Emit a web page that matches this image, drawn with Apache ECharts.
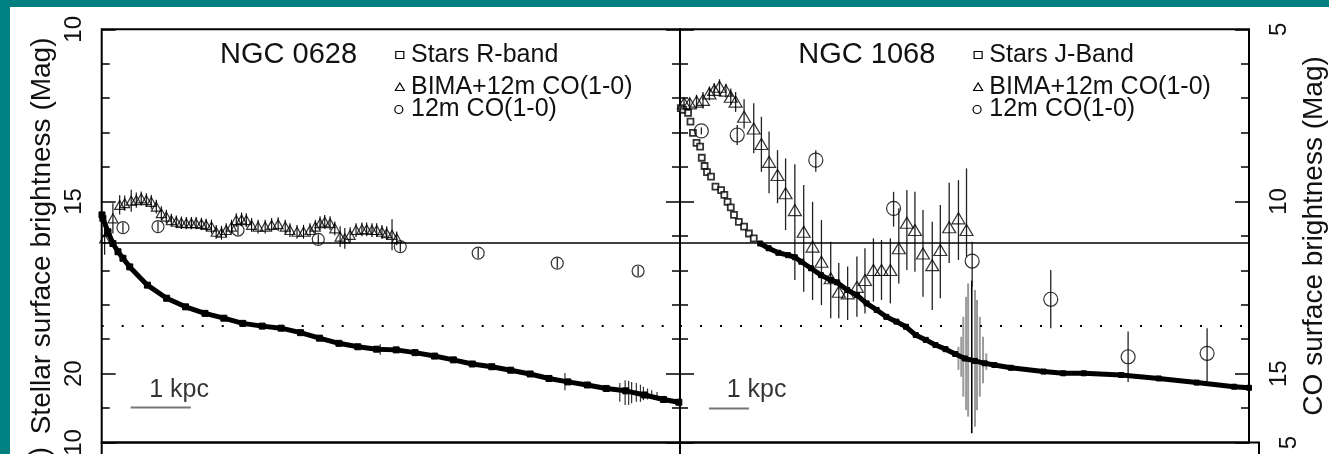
<!DOCTYPE html>
<html><head><meta charset="utf-8">
<script src="https://cdn.jsdelivr.net/npm/echarts@6/dist/echarts.min.js"></script>
<style>
html,body{margin:0;padding:0;background:#008080;width:1329px;height:454px;overflow:hidden;}
#c{position:absolute;left:10px;top:7px;width:1319px;height:447px;background:#ffffff;}
</style>
</head><body><div id="c"></div>
<script>
// ---------------- DATA (radius in kpc, magnitudes) ----------------
const panelTitles = ['NGC 0628', 'NGC 1068'];
const legendLeft = ['Stars R-band', 'BIMA+12m CO(1-0)', '12m CO(1-0)'];
const legendRight = ['Stars J-Band', 'BIMA+12m CO(1-0)', '12m CO(1-0)'];
const stellarTicks = [10, 15, 20];
const coTicks = [5, 10, 15];
const scaleBarText = '1 kpc';

// NGC 0628 stars R-band (stellar mag)
const n0628Stars = [[0.005,15.39],[0.02,15.49],[0.107,15.88],[0.19,16.22],[0.276,16.46],[0.36,16.65],[0.475,16.90],[0.775,17.43],[1.10,17.81],[1.42,18.06],[1.75,18.25],[2.07,18.39],[2.39,18.54],[2.72,18.62],[3.04,18.68],[3.37,18.81],[3.69,18.97],[4.02,19.12],[4.34,19.22],[4.66,19.29],[4.99,19.31],[5.31,19.39],[5.64,19.49],[5.96,19.60],[6.28,19.72],[6.61,19.80],[6.93,19.90],[7.26,20.01],[7.58,20.14],[7.90,20.24],[8.23,20.33],[8.55,20.43],[8.88,20.50],[9.20,20.62],[9.52,20.75],[9.78,20.83]];
// [r, low, high]
const n0628StarErr = [[4.72,19.15,19.45],[7.85,19.98,20.48],[8.78,20.27,20.82],[8.87,20.19,20.91],[8.93,20.21,20.91],[8.98,20.24,20.86],[9.06,20.27,20.82],[9.13,20.32,20.82],[9.18,20.38,20.77],[9.25,20.43,20.75],[9.32,20.48,20.72],[9.41,20.53,20.69]];
// NGC 0628 BIMA+12m CO (CO mag)
const n0628Bima = [[0.05,11.07],[0.19,10.49],[0.305,10.10],[0.39,10.05],[0.50,9.98],[0.586,9.96],[0.67,9.91],[0.756,9.96],[0.84,10.01],[0.925,10.15],[1.01,10.34],[1.095,10.44],[1.18,10.54],[1.264,10.59],[1.35,10.62],[1.434,10.63],[1.52,10.63],[1.60,10.63],[1.69,10.65],[1.77,10.68],[1.86,10.73],[1.94,10.88],[2.03,10.91],[2.11,10.83],[2.20,10.73],[2.28,10.54],[2.37,10.52],[2.45,10.54],[2.54,10.68],[2.65,10.73],[2.77,10.73],[2.88,10.68],[2.99,10.66],[3.11,10.73],[3.19,10.83],[3.31,10.88],[3.42,10.88],[3.53,10.83],[3.62,10.73],[3.70,10.63],[3.78,10.59],[3.87,10.63],[3.95,10.78],[4.04,11.02],[4.12,11.07],[4.21,10.97],[4.31,10.83],[4.41,10.81],[4.49,10.81],[4.58,10.83],[4.66,10.83],[4.75,10.88],[4.83,10.92],[4.92,10.97],[5.00,11.07]];
const n0628BimaErr = [0.48,0.44,0.28,0.22,0.32,0.22,0.2,0.2,0.2,0.2,0.2,0.2,0.18,0.18,0.18,0.18,0.18,0.18,0.18,0.18,0.2,0.2,0.2,0.2,0.2,0.2,0.2,0.2,0.2,0.2,0.2,0.2,0.2,0.2,0.2,0.2,0.2,0.2,0.2,0.2,0.2,0.2,0.2,0.3,0.3,0.22,0.2,0.2,0.2,0.2,0.2,0.2,0.2,0.45,0.2];
// NGC 0628 12m CO (CO mag)
const n0628Co12 = [[0.36,10.76],[0.954,10.73],[2.31,10.83],[3.67,11.10],[5.06,11.31],[6.38,11.50],[7.72,11.79],[9.09,12.02]];
const n0628Co12Err = [0.15,0.15,0.15,0.15,0.15,0.15,0.15,0.15];

// NGC 1068 stars J-band: inner sparse points and outer dense profile (stellar mag)
const n1068StarsInner = [[0.02,12.29],[0.08,12.34],[0.20,12.43],[0.26,12.68],[0.32,13.01],[0.41,13.30],[0.50,13.41],[0.54,13.73],[0.61,13.97],[0.67,14.15],[0.77,14.28],[0.88,14.57],[1.02,14.67],[1.10,14.81],[1.18,15.01],[1.26,15.17],[1.34,15.39],[1.46,15.59],[1.59,15.73],[1.71,15.93],[1.83,16.07]];
const n1068StarsOuter = [[1.99,16.22],[2.20,16.36],[2.44,16.49],[2.68,16.56],[2.85,16.62],[3.01,16.75],[3.25,16.94],[3.50,17.14],[3.74,17.28],[3.90,17.35],[4.15,17.57],[4.39,17.72],[4.63,17.96],[4.88,18.15],[5.12,18.35],[5.37,18.49],[5.61,18.64],[5.85,18.88],[6.10,19.02],[6.34,19.17],[6.59,19.29],[6.83,19.43],[7.07,19.56],[7.32,19.63],[7.56,19.70],[7.80,19.75],[8.21,19.83],[9.02,19.94],[9.51,19.99],[10.02,19.99],[10.95,20.04],[11.88,20.14],[12.82,20.26],[13.75,20.38],[14.12,20.41]];
const n1068StarErrGrey = [[6.91,19.22,19.89],[6.98,18.93,20.09],[7.03,18.35,20.67],[7.10,17.77,21.06],[7.15,17.38,21.25],[7.32,17.57,21.54],[7.37,17.86,21.06],[7.44,18.35,20.67],[7.52,18.93,20.28],[7.60,19.41,19.89]];
const n1068StarErrBlack = [[7.24,17.30,21.73]];
// NGC 1068 BIMA+12m CO (CO mag) with [low, high]
const n1068Bima = [[0.10,7.15],[0.24,7.15],[0.41,7.10],[0.57,7.05],[0.73,6.86],[0.85,6.76],[0.98,6.67],[1.14,6.78],[1.26,6.96],[1.38,7.10],[1.59,7.54],[1.83,7.88],[2.02,8.33],[2.21,8.85],[2.42,9.23],[2.62,9.76],[2.85,10.25],[3.07,10.88],[3.29,11.31],[3.51,11.75],[3.74,12.23],[3.94,12.62],[4.16,12.67],[4.39,12.48],[4.59,12.28],[4.80,11.99],[5.00,11.99],[5.22,11.99],[5.43,11.36],[5.63,10.62],[5.83,10.83],[6.03,11.51],[6.26,11.85],[6.46,11.41],[6.68,10.75],[6.91,10.49],[7.11,10.83]];
const n1068BimaErr = [[6.99,7.31],[6.99,7.31],[6.90,7.30],[6.82,7.30],[6.66,7.06],[6.56,6.96],[6.45,6.90],[6.58,6.98],[6.72,7.20],[6.82,7.40],[7.03,7.88],[7.15,8.60],[7.54,9.14],[7.97,9.76],[8.51,10.05],[8.75,10.83],[8.92,12.28],[9.52,12.62],[10.01,12.86],[10.54,13.01],[11.17,13.39],[11.79,13.39],[11.89,13.44],[11.60,13.35],[11.36,13.25],[11.07,12.91],[11.12,12.86],[11.07,12.96],[10.20,12.38],[9.67,11.99],[9.72,12.04],[10.25,12.77],[10.59,13.15],[10.10,12.81],[9.46,11.79],[9.38,11.70],[9.04,11.60]];
// NGC 1068 12m CO (CO mag) with [low, high]
const n1068Co12 = [[0.53,7.95],[1.42,8.07],[3.37,8.80],[5.30,10.20],[7.25,11.73],[9.20,12.84],[11.12,14.51],[13.08,14.41]];
const n1068Co12Err = [[7.85,8.05],[7.78,8.36],[8.51,9.14],[9.72,10.73],[11.17,12.48],[11.99,13.68],[13.78,15.24],[13.68,15.33]];

// horizontal reference levels (stellar mag)
const solidLevel = 16.21;
const dottedLevel = 18.6;
// scale bars: [r0, r1, mag] and label position [r, mag]
const scaleBarLeft = [0.49, 1.51, 20.98];
const scaleBarRight = [0.72, 1.71, 21.01];
const scaleLabelLeft = [1.31, 20.47];
const scaleLabelRight = [1.90, 20.47];

// ---------------- CHART ----------------
const FONT = 'Liberation Sans, Arial, sans-serif';
const INK = '#111';
const chart = echarts.init(document.getElementById('c'), null, {renderer: 'canvas'});

const GT = 22.3, GH = 413.2;
const grids = [
  {left: 91.7, top: GT, width: 578.3, height: GH},
  {left: 670, top: GT, width: 579, height: GH},
  {left: 91.7, top: GT + GH, width: 578.3, height: GH},
  {left: 670, top: GT + GH, width: 579, height: GH}
].map(g => Object.assign(g, {show: true, borderColor: '#000', borderWidth: 2, backgroundColor: 'transparent', containLabel: false}));

const xAxes = [9.8, 14.12, 9.8, 14.12].map((mx, i) => ({
  type: 'value', gridIndex: i, min: 0, max: mx, show: false
}));

function yAx(grid, pos, min, interval, len, labels, name, ticks) {
  return {
    type: 'value', gridIndex: grid, position: pos, inverse: true,
    min: min, max: min + 12, interval: interval,
    axisLine: {show: false}, splitLine: {show: false},
    axisTick: {show: true, inside: true, length: len, lineStyle: {color: '#000', width: 1.5}},
    axisLabel: {
      show: labels, rotate: 90, fontSize: 24, fontFamily: FONT, color: INK,
      margin: pos === 'left' ? 15 : 18,
      formatter: v => (ticks.indexOf(v) >= 0 ? String(v) : '')
    },
    name: name || '', nameLocation: 'middle', nameRotate: 90,
    nameGap: pos === 'left' ? 45 : 51,
    nameTextStyle: {fontSize: 28, fontFamily: FONT, color: INK}
  };
}
const SNAME = 'Stellar surface brightness (Mag)';
const CNAME = 'CO surface brightness (Mag)';
const yAxes = [
  yAx(0, 'left', 10, 5, 14, true, SNAME, stellarTicks),   // 0 left stellar
  yAx(0, 'left', 10, 1, 8, false, '', stellarTicks),      // 1
  yAx(0, 'right', 5, 5, 14, false, '', coTicks),          // 2 left CO
  yAx(0, 'right', 5, 1, 8, false, '', coTicks),           // 3
  yAx(1, 'left', 10, 5, 14, false, '', stellarTicks),     // 4 right stellar
  yAx(1, 'left', 10, 1, 8, false, '', stellarTicks),      // 5
  yAx(1, 'right', 5, 5, 14, true, CNAME, coTicks),        // 6 right CO
  yAx(1, 'right', 5, 1, 8, false, '', coTicks),           // 7
  yAx(2, 'left', 10, 5, 14, true, '', stellarTicks),      // 8 lower left
  yAx(3, 'right', 5, 5, 14, true, '', coTicks)            // 9 lower right
];

function errSeries(xi, yi, data, color, width) {
  return {
    type: 'custom', xAxisIndex: xi, yAxisIndex: yi, data: data, silent: true, z: 2,
    renderItem: (params, api) => {
      const a = api.coord([api.value(0), api.value(1)]);
      const b = api.coord([api.value(0), api.value(2)]);
      return {type: 'line', shape: {x1: a[0], y1: a[1], x2: b[0], y2: b[1]},
              style: {stroke: color, lineWidth: width}};
    }
  };
}
const sym = (pts, err) => pts.map((p, i) => [p[0], p[1] - err[i], p[1] + err[i]]);
const symLH = (pts, lh) => pts.map((p, i) => [p[0], lh[i][0], lh[i][1]]);

function refLines() {
  return {
    silent: true, symbol: ['none', 'none'], label: {show: false},
    data: [
      {yAxis: solidLevel, lineStyle: {type: 'solid', width: 1.6, color: '#000'}},
      {yAxis: dottedLevel, lineStyle: {type: [2, 18], width: 2, color: '#000'}}
    ]
  };
}
function scaleBar(xi, yi, bar, lab) {
  return [
    {type: 'line', xAxisIndex: xi, yAxisIndex: yi, data: [[bar[0], bar[2]], [bar[1], bar[2]]],
     symbol: 'none', lineStyle: {color: '#777', width: 2}, silent: true},
    {type: 'scatter', xAxisIndex: xi, yAxisIndex: yi, data: [lab], symbolSize: 0, silent: true,
     label: {show: true, position: 'inside', formatter: scaleBarText, fontSize: 25, fontFamily: FONT, color: '#000'}}
  ];
}
const openStyle = {color: 'rgba(0,0,0,0)', borderColor: '#000', borderWidth: 1.2};

const series = [
  // ---- NGC 0628 ----
  {type: 'line', name: legendLeft[0], xAxisIndex: 0, yAxisIndex: 0, data: n0628Stars,
   symbol: 'rect', symbolSize: 6, showAllSymbol: true, z: 3,
   lineStyle: {color: '#000', width: 5}, itemStyle: {color: '#000', borderColor: '#000', borderWidth: 1},
   markLine: refLines()},
  errSeries(0, 0, n0628StarErr, '#333', 1.2),
  errSeries(0, 2, sym(n0628Bima, n0628BimaErr), '#000', 1.1),
  {type: 'scatter', name: legendLeft[1], xAxisIndex: 0, yAxisIndex: 2, data: n0628Bima,
   symbol: 'triangle', symbolSize: [10, 9], itemStyle: openStyle, z: 4},
  errSeries(0, 2, sym(n0628Co12, n0628Co12Err), '#000', 1.1),
  {type: 'scatter', name: legendLeft[2], xAxisIndex: 0, yAxisIndex: 2, data: n0628Co12,
   symbol: 'circle', symbolSize: 12, itemStyle: openStyle, z: 4},
  ...scaleBar(0, 0, scaleBarLeft, scaleLabelLeft),
  // ---- NGC 1068 ----
  errSeries(1, 4, n1068StarErrGrey, '#9a9a9a', 2),
  errSeries(1, 4, n1068StarErrBlack, '#000', 1.6),
  {type: 'line', name: legendRight[0], xAxisIndex: 1, yAxisIndex: 4, data: n1068StarsOuter,
   symbol: 'rect', symbolSize: 5, showAllSymbol: true, z: 3,
   lineStyle: {color: '#000', width: 5}, itemStyle: {color: '#000', borderColor: '#000', borderWidth: 1},
   markLine: refLines()},
  {type: 'scatter', name: legendRight[0], xAxisIndex: 1, yAxisIndex: 4, data: n1068StarsInner,
   symbol: 'rect', symbolSize: 6, itemStyle: {color: '#fff', borderColor: '#000', borderWidth: 1.8}, z: 3},
  errSeries(1, 6, symLH(n1068Bima, n1068BimaErr), '#222', 1.3),
  {type: 'scatter', name: legendRight[1], xAxisIndex: 1, yAxisIndex: 6, data: n1068Bima,
   symbol: 'triangle', symbolSize: [13, 11], itemStyle: openStyle, z: 4},
  errSeries(1, 6, symLH(n1068Co12, n1068Co12Err), '#222', 1.3),
  {type: 'scatter', name: legendRight[2], xAxisIndex: 1, yAxisIndex: 6, data: n1068Co12,
   symbol: 'circle', symbolSize: 14, itemStyle: openStyle, z: 4},
  ...scaleBar(1, 4, scaleBarRight, scaleLabelRight)
];

function legendBlock(x0, titleText, items) {
  const t = (x, y, s, size) => ({type: 'text', x: x, y: y, silent: true,
    style: {text: s, fontSize: size, fontFamily: FONT, fill: INK, textVerticalAlign: 'middle'}});
  const sx = x0 + 298.1, tx = x0 + 309.3;
  return [
    t(x0 + 118.3, 48, titleText, 29),
    {type: 'rect', silent: true, shape: {x: sx - 4, y: 48 - 3.5, width: 8, height: 7},
     style: {fill: 'none', stroke: '#000', lineWidth: 1.2}},
    t(tx, 48, items[0], 25),
    {type: 'polygon', silent: true, shape: {points: [[sx, 76], [sx - 4.5, 83.5], [sx + 4.5, 83.5]]},
     style: {fill: 'none', stroke: '#000', lineWidth: 1.2}},
    t(tx, 79.7, items[1], 25),
    {type: 'circle', silent: true, shape: {cx: sx - 1, cy: 102.5, r: 4},
     style: {fill: 'none', stroke: '#000', lineWidth: 1.2}},
    t(tx, 102, items[2], 25)
  ];
}

// clipped axis title of the panel below (only its end shows at the bottom edge)
const lowerTitle = {type: 'text', x: 30, y: 440, rotation: Math.PI / 2, silent: true,
  style: {text: SNAME, fontSize: 28, fontFamily: FONT, fill: INK, textAlign: 'right', textVerticalAlign: 'middle'}};

chart.setOption({
  animation: false,
  backgroundColor: '#ffffff',
  grid: grids,
  xAxis: xAxes,
  yAxis: yAxes,
  series: series,
  graphic: [...legendBlock(91.7, panelTitles[0], legendLeft), ...legendBlock(670, panelTitles[1], legendRight), lowerTitle]
});
</script>
</body></html>
